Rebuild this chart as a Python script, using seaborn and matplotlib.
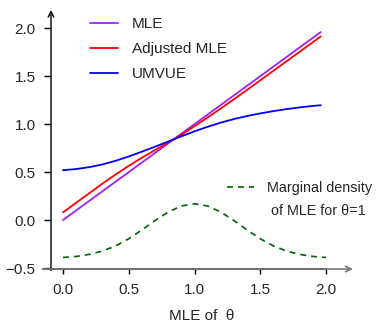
import matplotlib
matplotlib.use("Agg")
import matplotlib.pyplot as plt
import seaborn as sns
import pandas as pd

# values
mle_x = [0.0, 0.1, 0.2, 0.3, 0.4, 0.5, 0.6, 0.7, 0.8, 0.9, 1.0,
         1.1, 1.2, 1.3, 1.4, 1.5, 1.6, 1.7, 1.8, 1.9, 1.96]
mle = [0.0, 0.1, 0.2, 0.3, 0.4, 0.5, 0.6, 0.7, 0.8, 0.9, 1.0,
       1.1, 1.2, 1.3, 1.4, 1.5, 1.6, 1.7, 1.8, 1.9, 1.96]
adjusted_mle = [0.08, 0.18, 0.28, 0.38, 0.475, 0.565, 0.65, 0.73, 0.808, 0.89, 0.978,
                1.07, 1.164, 1.26, 1.358, 1.457, 1.556, 1.656, 1.755, 1.855, 1.915]
umvue = [0.52, 0.532, 0.552, 0.58, 0.618, 0.663, 0.713, 0.765, 0.819, 0.873, 0.925,
         0.973, 1.016, 1.053, 1.085, 1.112, 1.136, 1.157, 1.175, 1.19, 1.197]

dens_x = [0.0, 0.1, 0.2, 0.3, 0.4, 0.5, 0.6, 0.7, 0.8, 0.9, 1.0,
          1.1, 1.2, 1.3, 1.4, 1.5, 1.6, 1.7, 1.8, 1.9, 2.0]
marginal_density = [-0.39, -0.379, -0.358, -0.323, -0.269, -0.195, -0.103, -0.005, 0.084, 0.147, 0.17,
                    0.147, 0.084, -0.005, -0.103, -0.195, -0.269, -0.323, -0.358, -0.379, -0.39]

x_ticks = [0.0, 0.5, 1.0, 1.5, 2.0]
y_ticks = [-0.5, 0.0, 0.5, 1.0, 1.5, 2.0]

sns.set_style("white")
plt.rcParams["font.family"] = ["Liberation Sans", "DejaVu Sans"]
plt.rcParams["lines.scale_dashes"] = False
fs = 11
fs2 = 10.4

fig = plt.figure(figsize=(3.76, 3.23), dpi=100)
ax = fig.add_axes([51/376, 54/323, 302/376, 259/323])

df = pd.DataFrame({"x": mle_x, "MLE": mle, "Adjusted MLE": adjusted_mle, "UMVUE": umvue})
sns.lineplot(data=df, x="x", y="MLE", color="#A020F0", lw=1.3, ax=ax, label="MLE")
sns.lineplot(data=df, x="x", y="Adjusted MLE", color="#FF0000", lw=1.3, ax=ax, label="Adjusted MLE")
sns.lineplot(data=df, x="x", y="UMVUE", color="#0000FF", lw=1.3, ax=ax, label="UMVUE")
dens = pd.DataFrame({"x": dens_x, "d": marginal_density})
dline = sns.lineplot(data=dens, x="x", y="d", color="#006400", lw=1.2, ax=ax).lines[-1]
dline.set_linestyle((0, (4.3, 3.6)))

ax.set_xlim(-0.091, 2.205)
ax.set_ylim(-0.51, 2.19)
for s in ax.spines.values():
    s.set_visible(False)

# axes drawn as arrows
ax.annotate("", xy=(0, 1), xytext=(0, -0.006), xycoords="axes fraction",
            arrowprops=dict(arrowstyle="->", color="black", lw=1.0, shrinkA=0, shrinkB=0),
            annotation_clip=False)
ax.annotate("", xy=(1, 0), xytext=(-0.026, 0), xycoords="axes fraction",
            arrowprops=dict(arrowstyle="->", color="#777777", lw=1.2, shrinkA=0, shrinkB=0),
            annotation_clip=False)
ax.plot([-0.15, 2.0], [-0.51, -0.51], color="#333333", lw=1.2, clip_on=False)

ax.set_xticks(x_ticks)
ax.set_xticklabels([f"{t:.1f}" for t in x_ticks])
ax.set_yticks(y_ticks)
ax.set_yticklabels([f"{t:.1f}".replace("-", "\u2212") for t in y_ticks])
ax.tick_params(axis="y", left=True, direction="out", length=5, width=1, color="black", pad=6, labelsize=fs)
ax.tick_params(axis="x", bottom=True, direction="out", length=3.8, width=1, color="black", pad=6, labelsize=fs)
ax.set_xlabel("MLE of  \u03b8", fontsize=fs, labelpad=9)
ax.set_ylabel("")

leg1 = ax.legend(loc="upper left", bbox_to_anchor=(90/376, 1 - 17/323), bbox_transform=fig.transFigure,
                 frameon=False, fontsize=fs, handlelength=1.8, handletextpad=0.95,
                 labelspacing=0.72, borderpad=0, borderaxespad=0)
ax.add_artist(leg1)
ax.legend([dline], ["Marginal density"], loc="upper left",
          bbox_to_anchor=(227/376, 1 - 181/323), bbox_transform=fig.transFigure,
          frameon=False, fontsize=fs2, handlelength=1.9, handletextpad=0.85,
          borderpad=0, borderaxespad=0)
fig.text(318/376, 1 - 211/323, "of MLE for \u03b8=1", ha="center", va="center", fontsize=fs2)

fig.savefig("out.png", dpi=100)
